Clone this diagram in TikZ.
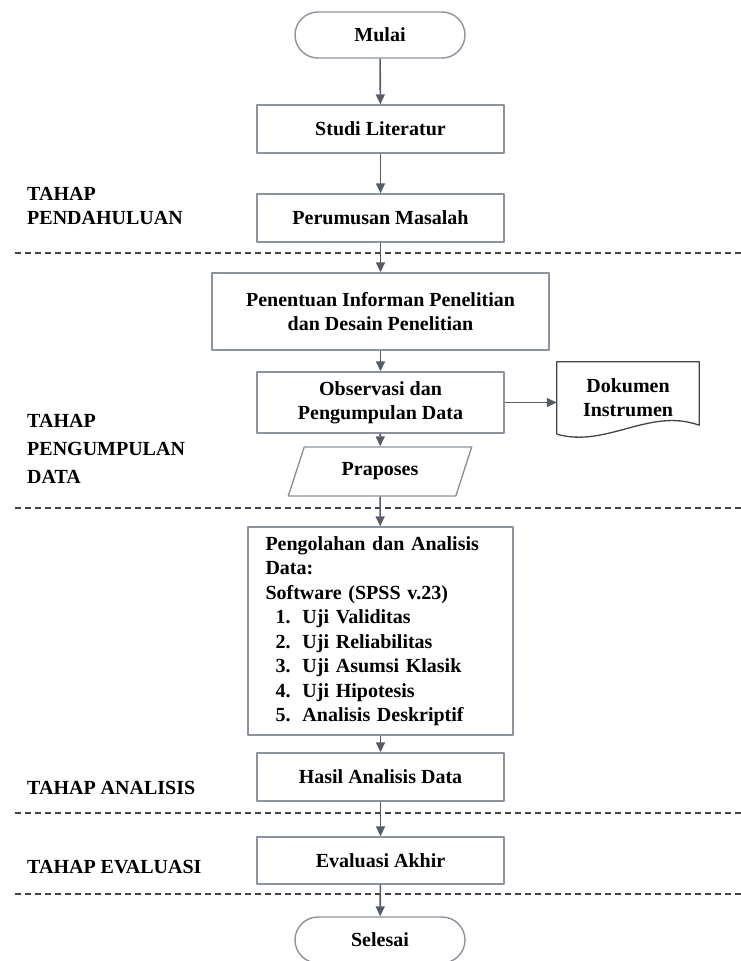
\documentclass[tikz,border=0pt]{standalone}
\usepackage{fontspec}
\setmainfont{Liberation Serif}
\usetikzlibrary{arrows.meta,shapes.geometric}
\definecolor{boxgray}{RGB}{140,146,158}
\definecolor{arrgray}{RGB}{88,92,102}
\definecolor{docgray}{RGB}{66,68,74}
\begin{document}
\begin{tikzpicture}[x=1pt,y=-1pt,>={Triangle[length=10pt,width=9pt]},
    font=\fontsize{20}{24}\selectfont\bfseries, line join=round,
    proc/.style={draw=boxgray,line width=1.4pt,minimum width=247pt,minimum height=48pt,align=center,inner sep=2pt},
    term/.style={proc,rounded corners=23pt,minimum width=170pt,minimum height=46pt},
    arr/.style={->,draw=arrgray,line width=1.6pt},
    stage/.style={anchor=west,align=left,inner sep=0pt},
    sep/.style={draw=docgray,line width=1.1pt,dash pattern=on 6pt off 4pt}]
\useasboundingbox (0,0) rectangle (741,961);
\foreach \y in {253,508,813,894} \draw[sep] (15,\y)--(741,\y);
\node[term] (mulai) at (380,35) {Mulai};
\node[proc] (studi) at (380.5,129) {Studi Literatur};
\node[proc] (rumus) at (380.5,218) {Perumusan Masalah};
\node[proc,minimum width=337pt,minimum height=77pt] (tentu) at (380.5,311.5) {Penentuan Informan Penelitian\\dan Desain Penelitian};
\node[proc,minimum height=61pt] (obs) at (380.5,402.5) {Observasi dan\\Pengumpulan Data};
\node[minimum width=142pt,minimum height=72pt,align=center,inner sep=0pt] (dok) at (628,398) {Dokumen\\Instrumen};
\draw[docgray,line width=1.3pt] (dok.south west)--(dok.north west)--(dok.north east)--([yshift=9pt]dok.south east)
  .. controls +(-50,-18) and +(50,14) .. (dok.south west);
\node[draw=boxgray,line width=1.4pt,trapezium,trapezium left angle=70,trapezium right angle=110,trapezium stretches=true,
  minimum width=184pt,minimum height=49pt] (prap) at (380,471.5) {Praposes};
\node[proc,text width=230pt,align=left,inner xsep=17.5pt,minimum height=208pt,font=\fontsize{20}{24.5}\selectfont\bfseries] (olah) at (380.5,631)
  {Pengolahan dan Analisis\\Data:\\Software (SPSS v.23)\\
   \hspace*{10pt}1.\hspace{12pt}Uji Validitas\\
   \hspace*{10pt}2.\hspace{12pt}Uji Reliabilitas\\
   \hspace*{10pt}3.\hspace{12pt}Uji Asumsi Klasik\\
   \hspace*{10pt}4.\hspace{12pt}Uji Hipotesis\\
   \hspace*{10pt}5.\hspace{12pt}Analisis Deskriptif};
\node[proc] (hasil) at (380.5,777) {Hasil Analisis Data};
\node[proc,minimum height=47pt] (eval) at (380.5,860.5) {Evaluasi Akhir};
\node[term] (selesai) at (380,940) {Selesai};
\node[stage] (tp1) at (27,206) {TAHAP\\PENDAHULUAN};
\node[stage] (tp2) at (27,449) {TAHAP\\[4pt]PENGUMPULAN\\[4pt]DATA};
\node[stage] (tp3) at (27,788) {TAHAP ANALISIS};
\node[stage] (tp4) at (27,867) {TAHAP EVALUASI};
\draw[arr] (mulai)--(studi);
\draw[arr] (studi)--(rumus);
\draw[arr] (rumus)--(tentu);
\draw[arr] (tentu)--(obs);
\draw[arr] (obs)--(prap);
\draw[arr] (prap)--(olah);
\draw[arr] (olah)--(hasil);
\draw[arr] (hasil)--(eval);
\draw[arr] (eval)--(selesai);
\draw[arr] (obs.east)--(obs.east-|dok.west);
\end{tikzpicture}
\end{document}
